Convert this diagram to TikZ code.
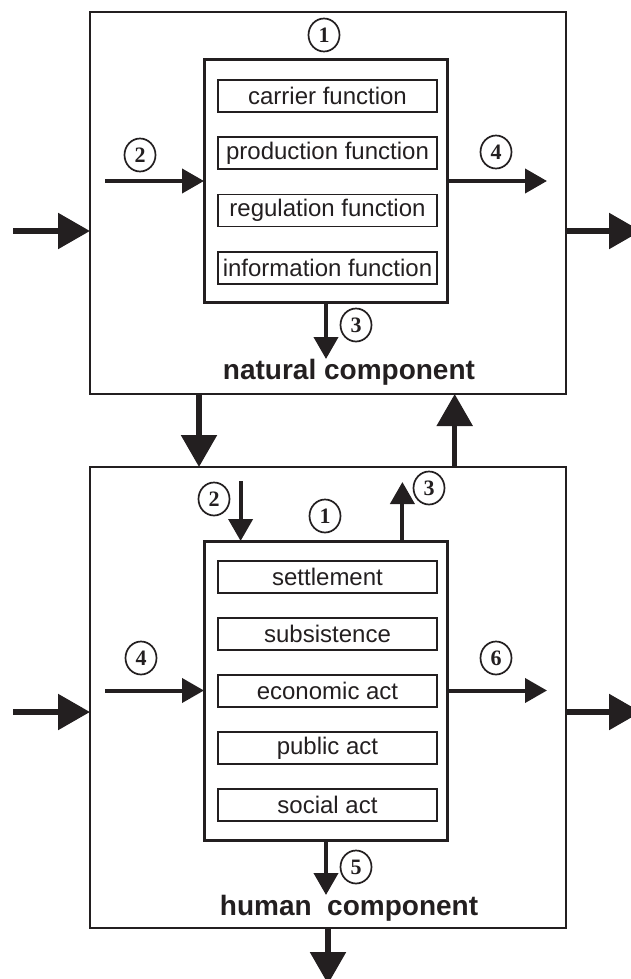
\documentclass[tikz,border=0pt]{standalone}
\usepackage{fontspec}
\setmainfont{Liberation Sans}
\newfontfamily\numfont{Liberation Serif}
\usetikzlibrary{arrows.meta,shapes.geometric}
\definecolor{ink}{HTML}{231F20}
\tikzset{
  outerbox/.style={draw=ink, line width=1.6pt, inner sep=0pt, outer sep=0pt},
  innerbox/.style={draw=ink, line width=3pt, inner sep=0pt, outer sep=0pt},
  itembox/.style={draw=ink, line width=1.5pt, minimum width=219pt, minimum height=32pt,
    inner sep=0pt, font=\fontsize{24}{24}\selectfont, text=ink},
  numcirc/.style={ellipse, draw=ink, line width=1.7pt, minimum width=31pt, minimum height=33pt,
    inner sep=0pt, font=\numfont\bfseries\fontsize{22}{22}\selectfont, text=ink},
  smallarrow/.style={draw=ink, line width=4pt, -{Triangle[length=22pt,width=24pt]}},
  bigarrow/.style={draw=ink, line width=5.5pt, -{Triangle[length=32pt,width=35pt]}},
  complabel/.style={font=\bfseries\fontsize{28}{28}\selectfont, text=ink},
}
\begin{document}
\begin{tikzpicture}[x=1pt,y=-1pt]
\useasboundingbox (0,0) rectangle (631,979);

% ---------- natural component ----------
\node[outerbox, minimum width=476pt, minimum height=382pt] (natOuter) at (328,203) {};
\node[innerbox, minimum width=243pt, minimum height=242pt] (natInner) at (325.5,181) {};
\node[itembox] (carrier) at (327.5,96)  {carrier function};
\node[itembox] (product) at (327.5,153) {production function};
\node[itembox] (regul)   at (327.5,210.5) {regulation function};
\node[itembox] (inform)  at (327.5,268) {information function};
\node[complabel] (natLabel) at (349,372) {natural component};

\node[numcirc] (nc1) at (324,35)  {1};
\node[numcirc] (nc2) at (140,155) {2};
\node[numcirc] (nc4) at (496,152) {4};
\node[numcirc] (nc3) at (356,325) {3};

\coordinate (natIn2)  at (105,181);
\coordinate (natOut4) at (547,181);
\coordinate (natOut3) at (326,359);
\draw[smallarrow] (natIn2) -- (natInner.west);
\draw[smallarrow] (natInner.east) -- (natOut4);
\draw[smallarrow] (natOut3 |- natInner.south) -- (natOut3);

\coordinate (natInL)  at (13,231);
\coordinate (natOutR) at (641,231);
\draw[bigarrow] (natInL) -- (natInL -| natOuter.west);
\draw[bigarrow] (natOutR -| natOuter.east) -- (natOutR);

% ---------- human component ----------
\node[outerbox, minimum width=476pt, minimum height=461pt] (humOuter) at (328,697.5) {};
\node[innerbox, minimum width=243pt, minimum height=299pt] (humInner) at (325.5,690.5) {};
\node[itembox] (settle)  at (327.5,577) {settlement};
\node[itembox] (subsist) at (327.5,634) {subsistence};
\node[itembox] (econ)    at (327.5,691) {economic act};
\node[itembox] (public)  at (327.5,748) {public act};
\node[itembox] (social)  at (327.5,805) {social act};
\node[complabel] (humLabel) at (349,908) {human\ \ component};

\node[numcirc] (hc2) at (214,499)   {2};
\node[numcirc] (hc1) at (325,516)   {1};
\node[numcirc] (hc3) at (429,488) {3};
\node[numcirc] (hc4) at (141,658) {4};
\node[numcirc] (hc6) at (496,658) {6};
\node[numcirc] (hc5) at (356,867)   {5};

\coordinate (humIn2)  at (240.6,481);
\coordinate (humOut3) at (402.4,482);
\coordinate (humIn4)  at (105,690.5);
\coordinate (humOut6) at (547,690.5);
\coordinate (humOut5) at (326,895);
\draw[smallarrow] (humIn2) -- (humIn2 |- humInner.north);
\draw[smallarrow] (humOut3 |- humInner.north) -- (humOut3);
\draw[smallarrow] (humIn4) -- (humInner.west);
\draw[smallarrow] (humInner.east) -- (humOut6);
\draw[smallarrow] (humOut5 |- humInner.south) -- (humOut5);

\coordinate (humInL)  at (13,712);
\coordinate (humOutR) at (641,712);
\draw[bigarrow] (humInL) -- (humInL -| humOuter.west);
\draw[bigarrow] (humOutR -| humOuter.east) -- (humOutR);

\coordinate (humOutB) at (328,984);
\draw[bigarrow] (humOutB |- humOuter.south) -- (humOutB);

% ---------- links between the two components ----------
\coordinate (downX) at (199,0);
\coordinate (upX)   at (454.7,0);
\draw[bigarrow] (downX |- natOuter.south) -- (downX |- humOuter.north);
\draw[bigarrow] (upX |- humOuter.north) -- (upX |- natOuter.south);
\end{tikzpicture}
\end{document}
